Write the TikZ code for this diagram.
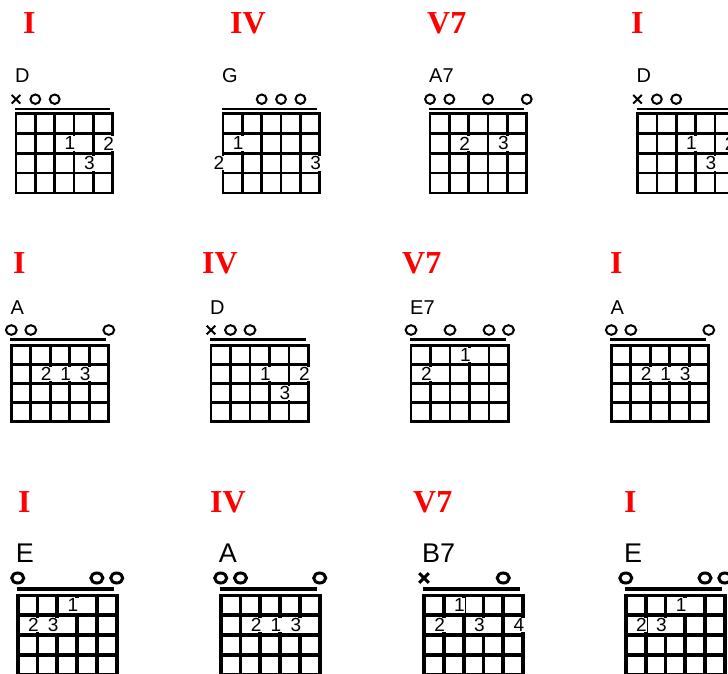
\documentclass[tikz,border=0pt]{standalone}
\usepackage{fontspec}
\setmainfont{Liberation Sans}
\newfontfamily\romanfont{Liberation Serif}
\definecolor{numred}{RGB}{255,0,0}
\tikzset{
  fretline/.style={line width=\GLW, line cap=rect},
  nutline/.style={line width=\NLW},
  openmark/.style={line width=\MLW},
  mutemark/.style={line width=\MLW},
  cname/.style={anchor=base west, inner sep=0pt, font=\fontsize{\NFS}{\NFS}\selectfont},
  finger/.style={anchor=east, fill=white, inner sep=0.6pt, font=\fontsize{19}{19}\selectfont},
  degree/.style={anchor=base west, inner sep=0pt, text=numred, font=\romanfont\bfseries\fontsize{32}{32}\selectfont},
}
\newcommand{\chordbase}[4]{%
  \def\CL{#2}\def\CT{#3}\def\CID{#1}%
  \foreach \i in {0,...,5} {\draw[fretline] ({\CL+\i*\CW},\CT) -- ({\CL+\i*\CW},{\CT+4*\CH});}
  \foreach \j in {0,...,4} {\draw[fretline] (\CL,{\CT+\j*\CH}) -- ({\CL+5*\CW},{\CT+\j*\CH});}
  \draw[nutline] ({\CL-1},{\CT-\NUTOFF}) -- ({\CL+5*\CW-3},{\CT-\NUTOFF});
  \node[cname] (#1-name) at ({\CL+\NSH},{\CT-\NAMEOFF}) {#4};
}
\newcommand{\openmk}[1]{\draw[openmark] ({\CL+(#1-1)*\CW},{\CT-\MOFF}) ellipse[x radius=\MRX, y radius=\MRY];}
\newcommand{\mutemk}[1]{\draw[mutemark]
  ({\CL+(#1-1)*\CW-\XS},{\CT-\MOFF-\XS}) -- ({\CL+(#1-1)*\CW+\XS},{\CT-\MOFF+\XS})
  ({\CL+(#1-1)*\CW-\XS},{\CT-\MOFF+\XS}) -- ({\CL+(#1-1)*\CW+\XS},{\CT-\MOFF-\XS});}
\newcommand{\fingermk}[3]{\node[finger] (\CID-s#1f#2) at ({\CL+(#1-1)*\CW+2},{\CT+(#2-0.5)*\CH}) {#3};}
\begin{document}
\begin{tikzpicture}[x=1pt,y=-1pt]
\useasboundingbox (0,0) rectangle (728,673);
\clip (0,0) rectangle (728,673);
\fill[white] (0,0) rectangle (728,673);

% degree labels
\node[degree] (r1a-deg) at (23,33) {I};
\node[degree] (r1b-deg) at (230,33) {IV};
\node[degree] (r1c-deg) at (427,33) {V7};
\node[degree] (r1d-deg) at (631,33) {I};
\node[degree] (r2a-deg) at (13,273) {I};
\node[degree] (r2b-deg) at (202,273) {IV};
\node[degree] (r2c-deg) at (402,273) {V7};
\node[degree] (r2d-deg) at (610,273) {I};
\node[degree] (r3a-deg) at (18,512) {I};
\node[degree] (r3b-deg) at (210,512) {IV};
\node[degree] (r3c-deg) at (413,512) {V7};
\node[degree] (r3d-deg) at (624,512) {I};

% ---------- row 1 ----------
\def\CW{19.35}\def\CH{19.8}\def\GLW{2.7pt}\def\NLW{2.5pt}\def\NUTOFF{4.7}
\def\MOFF{14.5}\def\MRX{4.9}\def\MRY{4.7}\def\MLW{2pt}\def\XS{4.3}
\def\NFS{20}\def\NAMEOFF{31.7}\def\NSH{-1}

\chordbase{r1a}{16}{113.7}{D}
\mutemk{1}\openmk{2}\openmk{3}
\fingermk{4}{2}{1}\fingermk{6}{2}{2}\fingermk{5}{3}{3}

\chordbase{r1b}{223}{113.7}{G}
\openmk{3}\openmk{4}\openmk{5}
\fingermk{2}{2}{1}\fingermk{1}{3}{2}\fingermk{6}{3}{3}

\chordbase{r1c}{430}{113.7}{A7}
\openmk{1}\openmk{2}\openmk{4}\openmk{6}
\fingermk{3}{2}{2}\fingermk{5}{2}{3}

\chordbase{r1d}{637.5}{113.7}{D}
\mutemk{1}\openmk{2}\openmk{3}
\fingermk{4}{2}{1}\fingermk{6}{2}{2}\fingermk{5}{3}{3}

% ---------- row 2 ----------
\def\CW{19.5}\def\CH{19}\def\NUTOFF{6}
\def\MOFF{15.5}\def\MRX{5.4}\def\MRY{4.8}\def\NAMEOFF{31.5}

\chordbase{r2a}{11.3}{345.5}{A}
\openmk{1}\openmk{2}\openmk{6}
\fingermk{3}{2}{2}\fingermk{4}{2}{1}\fingermk{5}{2}{3}

\chordbase{r2b}{211}{345.5}{D}
\mutemk{1}\openmk{2}\openmk{3}
\fingermk{4}{2}{1}\fingermk{6}{2}{2}\fingermk{5}{3}{3}

\chordbase{r2c}{411}{345.5}{E7}
\openmk{1}\openmk{3}\openmk{5}\openmk{6}
\fingermk{4}{1}{1}\fingermk{2}{2}{2}

\chordbase{r2d}{611.3}{345.5}{A}
\openmk{1}\openmk{2}\openmk{6}
\fingermk{3}{2}{2}\fingermk{4}{2}{1}\fingermk{5}{2}{3}

% ---------- row 3 ----------
\def\CW{19.8}\def\CH{19.8}\def\GLW{3.8pt}\def\NLW{3.5pt}\def\NUTOFF{6.5}
\def\MOFF{17.5}\def\MRX{6}\def\MRY{5}\def\MLW{3pt}\def\XS{4.8}
\def\NFS{27}\def\NAMEOFF{33.5}\def\NSH{-2}

\chordbase{r3a}{17.7}{595.5}{E}
\openmk{1}\openmk{5}\openmk{6}
\fingermk{4}{1}{1}\fingermk{2}{2}{2}\fingermk{3}{2}{3}

\chordbase{r3b}{220.7}{595.5}{A}
\openmk{1}\openmk{2}\openmk{6}
\fingermk{3}{2}{2}\fingermk{4}{2}{1}\fingermk{5}{2}{3}

\chordbase{r3c}{424}{595.5}{B7}
\mutemk{1}\openmk{5}
\fingermk{3}{1}{1}\fingermk{2}{2}{2}\fingermk{4}{2}{3}\fingermk{6}{2}{4}

\chordbase{r3d}{625.8}{595.5}{E}
\openmk{1}\openmk{5}\openmk{6}
\fingermk{4}{1}{1}\fingermk{2}{2}{2}\fingermk{3}{2}{3}
\end{tikzpicture}
\end{document}
